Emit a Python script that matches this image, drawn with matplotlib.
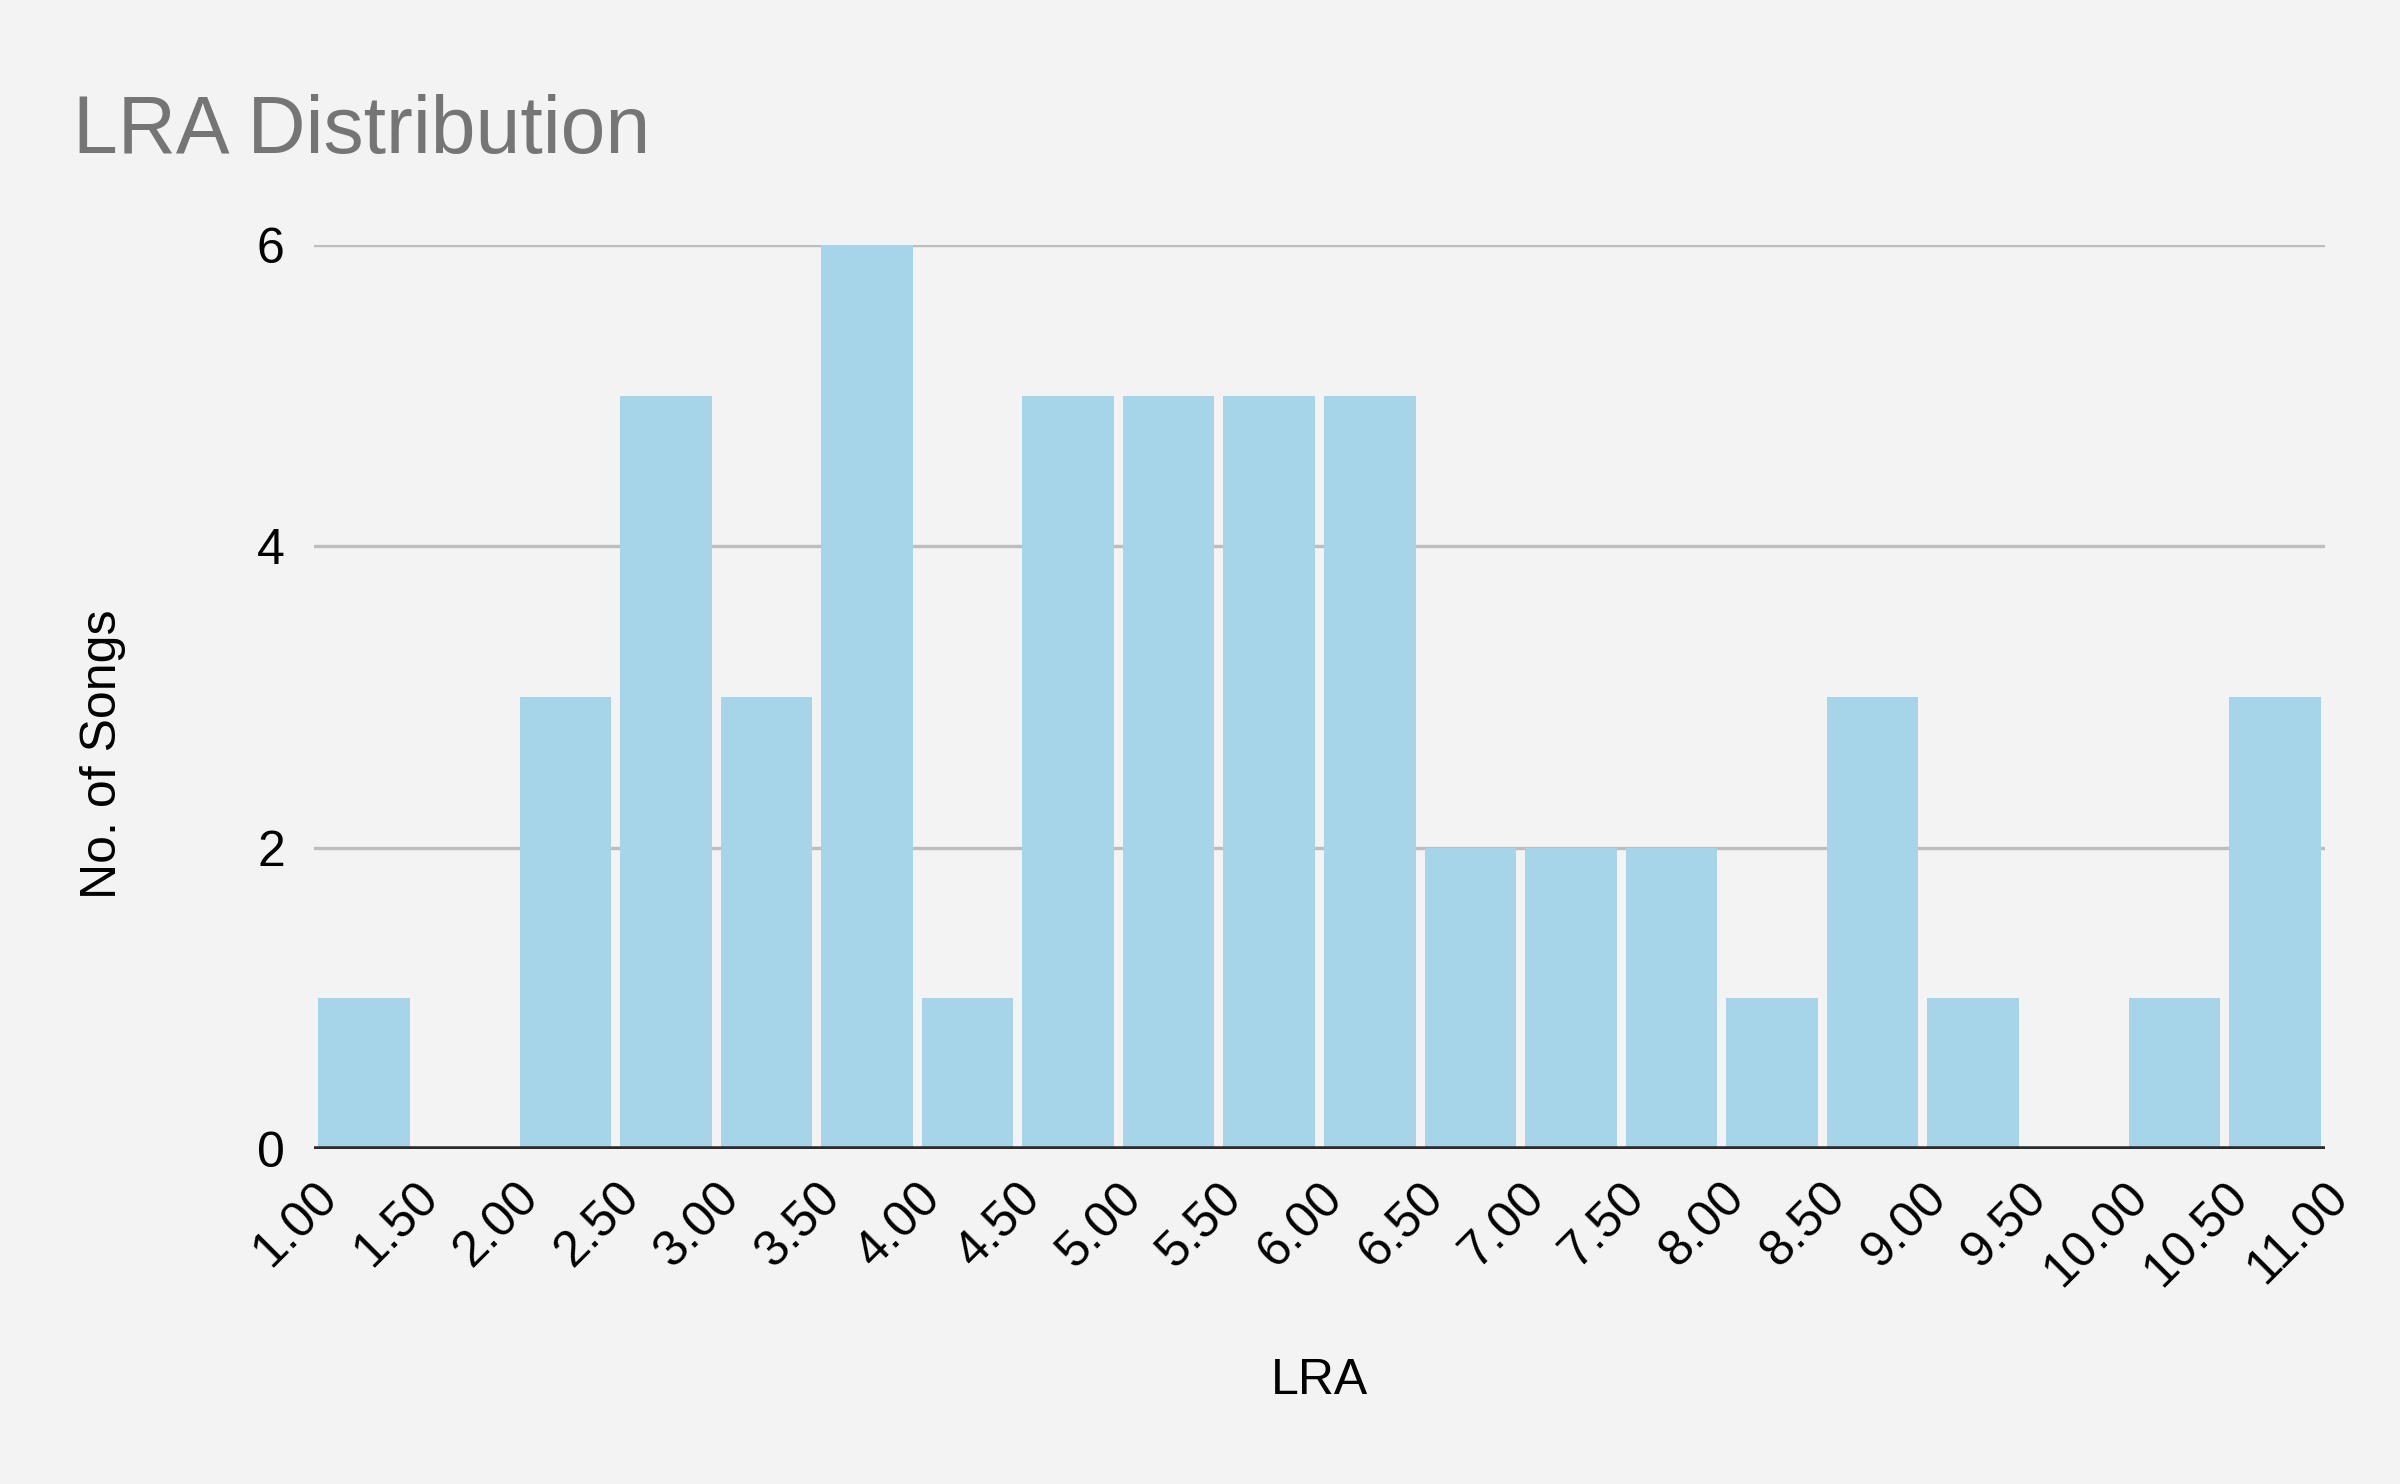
import numpy as np
import matplotlib
matplotlib.use("Agg")
import matplotlib.pyplot as plt

# bin edges and counts of the histogram
bin_edges = [1.0, 1.5, 2.0, 2.5, 3.0, 3.5, 4.0, 4.5, 5.0, 5.5, 6.0,
             6.5, 7.0, 7.5, 8.0, 8.5, 9.0, 9.5, 10.0, 10.5, 11.0]
counts = [1, 0, 3, 5, 3, 6, 1, 5, 5, 5, 5, 2, 2, 2, 1, 3, 1, 0, 1, 3]
y_ticks = [0, 2, 4, 6]

plt.rcParams['font.family'] = ['Liberation Sans', 'DejaVu Sans']

bg = "#f3f3f3"
fig = plt.figure(figsize=(12, 7.42), dpi=200, facecolor=bg)
ax = fig.add_axes([0.1308, 0.2257, 0.8380, 0.6092], facecolor=bg)

lefts = np.array(bin_edges[:-1])
ax.bar(lefts + 0.25, counts, width=0.455, color="#a6d4e8", zorder=3)

ax.set_xlim(1.0, 11.0)
ax.set_ylim(0, 6)
ax.set_yticks(y_ticks)
ax.set_xticks(bin_edges)
ax.set_xticklabels(["%.2f" % v for v in bin_edges], rotation=45,
                   ha="right", va="top", rotation_mode="anchor", fontsize=18)
ax.tick_params(axis="x", length=0, pad=9)
ax.tick_params(axis="y", length=0, pad=10.5, labelsize=18)

for y in y_ticks[1:]:
    ax.axhline(y, color="#bdbdbd", lw=1.2, zorder=1)
ax.axhline(0, color="#2b2b2b", lw=2.0, zorder=4)

for s in ax.spines.values():
    s.set_visible(False)

ax.set_xlabel("LRA", fontsize=18, va="center")
ax.xaxis.set_label_coords(0.5, -0.257)
ax.set_ylabel("No. of Songs", fontsize=18, va="center")
ax.yaxis.set_label_coords(-0.105, 0.437)

fig.text(0.0305, 0.897, "LRA Distribution", fontsize=29, color="#757575",
         ha="left", va="baseline")

fig.savefig("out.png", dpi=200, facecolor=bg)
